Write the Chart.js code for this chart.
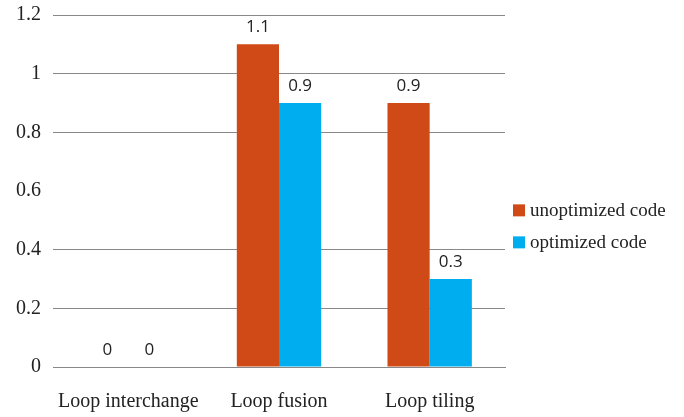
<!DOCTYPE html>
<html><head><meta charset="utf-8">
<script src="https://cdn.jsdelivr.net/npm/chart.js@4/dist/chart.umd.min.js"></script>
<style>html,body{margin:0;padding:0;background:#fff}#wrap{width:684px;height:417px}</style>
</head><body><div id="wrap"><canvas id="c"></canvas></div>
<script>
const categories = ['Loop interchange', 'Loop fusion', 'Loop tiling'];
const seriesNames = ['unoptimized code', 'optimized code'];
const unoptimized = [0, 1.1, 0.9];
const optimized = [0, 0.9, 0.3];
const yTicks = [0, 0.2, 0.4, 0.6, 0.8, 1, 1.2];

const serif = '"Liberation Serif", "DejaVu Serif", serif';
const sans = '"Open Sans", "Liberation Sans", sans-serif';

const labelPlugin = {
  id: 'valueLabels',
  afterDatasetsDraw(chart) {
    const ctx = chart.ctx;
    ctx.save();
    ctx.font = '17px ' + sans;
    ctx.fillStyle = '#222';
    ctx.textAlign = 'center';
    ctx.textBaseline = 'alphabetic';
    chart.data.datasets.forEach((ds, i) => {
      chart.getDatasetMeta(i).data.forEach((bar, j) => {
        ctx.fillText(String(ds.data[j]), bar.x, bar.y - 12);
      });
    });
    ctx.restore();
  }
};

const legendPlugin = {
  id: 'sideLegend',
  afterDraw(chart) {
    const ctx = chart.ctx;
    const a = chart.chartArea;
    ctx.save();
    ctx.font = '19px ' + serif;
    ctx.textBaseline = 'middle';
    ctx.textAlign = 'left';
    const h = a.bottom - a.top;
    chart.data.datasets.forEach((ds, i) => {
      const y = a.top + h * 0.555 + i * 32;
      const x = a.right + 8;
      ctx.fillStyle = ds.backgroundColor;
      ctx.fillRect(x, y - 6, 12, 12);
      ctx.fillStyle = '#222';
      ctx.fillText(ds.label, x + 17, y + 1);
    });
    ctx.restore();
  }
};

new Chart(document.getElementById('c'), {
  type: 'bar',
  data: {
    labels: categories,
    datasets: [
      { label: seriesNames[0], data: unoptimized, backgroundColor: '#D04A18' },
      { label: seriesNames[1], data: optimized, backgroundColor: '#00AEEF' }
    ]
  },
  options: {
    responsive: true,
    maintainAspectRatio: false,
    animation: false,
    layout: { padding: { top: 15, right: 179, left: 0, bottom: 0 } },
    plugins: { legend: { display: false }, tooltip: { enabled: false } },
    datasets: { bar: { categoryPercentage: 0.56, barPercentage: 1.0 } },
    scales: {
      x: {
        grid: { display: false },
        border: { display: true, color: '#888', width: 1 },
        ticks: { font: { family: serif, size: 20 }, color: '#222', padding: 15 },
        afterFit(axis) { axis.height = 50; axis.paddingLeft = 0; axis.paddingRight = 0; }
      },
      y: {
        min: 0, max: 1.2,
        afterBuildTicks(axis) { axis.ticks = yTicks.map(v => ({ value: v })); },
        afterFit(axis) { axis.width = 53; axis.paddingTop = 0; axis.paddingBottom = 0; },
        grid: {
          drawTicks: false,
          color: ctx => (ctx.tick && Math.abs(ctx.tick.value - 0.6) < 1e-9) ? 'rgba(0,0,0,0)' : '#888'
        },
        border: { display: false },
        ticks: {
          font: { family: serif, size: 20 }, color: '#222', padding: 12,
          callback: v => String(Math.round(v * 10) / 10)
        }
      }
    }
  },
  plugins: [labelPlugin, legendPlugin]
});
</script></body></html>
